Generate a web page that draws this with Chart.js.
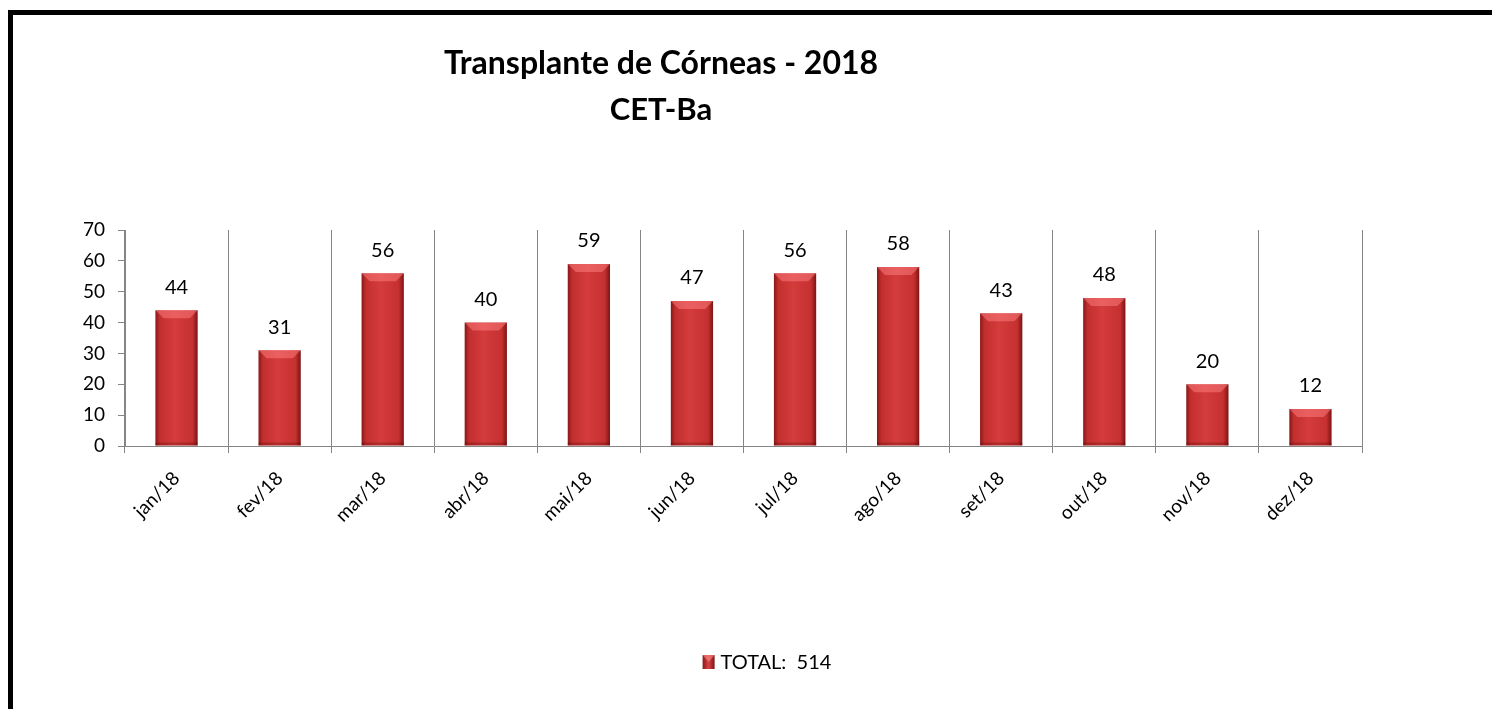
<!DOCTYPE html>
<html>
<head>
<meta charset="UTF-8">
<title>Transplante de Córneas - 2018</title>
<style>
  html, body { margin: 0; padding: 0; background: #fff; overflow: hidden; }
  #wrap { position: relative; width: 1492px; height: 709px; }
  #frame {
    position: absolute; left: 8px; top: 10px;
    width: 1600px; height: 800px;
    border: 5px solid #000; pointer-events: none;
  }
  canvas { position: absolute; left: 0; top: 0; }
</style>
</head>
<body>
<div id="wrap">
  <canvas id="chart" width="1492" height="709"></canvas>
  <div id="frame"></div>
</div>
<script src="https://cdn.jsdelivr.net/npm/chart.js"></script>
<script>
// Dados do gráfico
const titleLines = ['Transplante de Córneas - 2018', 'CET-Ba'];
const months = ['jan/18', 'fev/18', 'mar/18', 'abr/18', 'mai/18', 'jun/18',
                'jul/18', 'ago/18', 'set/18', 'out/18', 'nov/18', 'dez/18'];
const transplants = [44, 31, 56, 40, 59, 47, 56, 58, 43, 48, 20, 12];
const seriesName = 'TOTAL:  514';
const yTicks = [0, 10, 20, 30, 40, 50, 60, 70];

const FONT = 'Lato, "Open Sans", sans-serif';
const GRID = '#858585';

// gradiente horizontal de cada barra
function barFill(ctx) {
  const chart = ctx.chart;
  const xs = chart.scales.x;
  if (!xs || !chart.chartArea) return '#c83232';
  const cx = xs.getPixelForValue(ctx.dataIndex);
  const half = 21;
  const g = chart.ctx.createLinearGradient(cx - half, 0, cx + half, 0);
  g.addColorStop(0, '#8a1818');
  g.addColorStop(0.1, '#c22e2e');
  g.addColorStop(0.45, '#d53c3c');
  g.addColorStop(0.88, '#c53030');
  g.addColorStop(1, '#7e1515');
  return g;
}

// bisel no topo + rótulos de dados
const barDecor = {
  id: 'barDecor',
  afterDatasetsDraw(chart) {
    const c = chart.ctx;
    const meta = chart.getDatasetMeta(0);
    c.save();
    meta.data.forEach((bar, i) => {
      const l = bar.x - bar.width / 2, r = bar.x + bar.width / 2;
      const t = bar.y, b = bar.base;
      const bev = Math.min(8, (b - t) / 3);
      c.fillStyle = 'rgba(255,130,130,0.5)';
      c.beginPath();
      c.moveTo(l, t); c.lineTo(r, t); c.lineTo(r - bev, t + bev); c.lineTo(l + bev, t + bev);
      c.closePath(); c.fill();
      c.fillStyle = 'rgba(80,0,0,0.25)';
      c.fillRect(l, b - 3, r - l, 3);
      c.fillStyle = '#000';
      c.font = '20px ' + FONT;
      c.textAlign = 'center';
      c.textBaseline = 'middle';
      c.fillText(String(transplants[i]), bar.x, t - 23);
    });
    c.restore();
  }
};

// título e legenda
const textDecor = {
  id: 'textDecor',
  afterDraw(chart) {
    const c = chart.ctx;
    c.save();
    c.fillStyle = '#000';
    c.textAlign = 'center';
    c.textBaseline = 'alphabetic';
    c.font = 'bold 32px ' + FONT;
    c.fillText(titleLines[0], 661, 74);
    c.font = 'bold 31px ' + FONT;
    c.fillText(titleLines[1], 661, 120);

    c.font = '20px ' + FONT;
    c.textAlign = 'left';
    c.textBaseline = 'middle';
    const tw = c.measureText(seriesName).width;
    const box = 12, gap = 6;
    const x0 = 767 - (box + gap + tw) / 2, y0 = 662;
    const g = c.createLinearGradient(x0, 0, x0 + box, 0);
    g.addColorStop(0, '#8a1818'); g.addColorStop(0.5, '#d94242'); g.addColorStop(1, '#7e1515');
    c.fillStyle = g;
    c.fillRect(x0, y0 - 7, box, 14);
    c.fillStyle = 'rgba(255,140,140,0.6)';
    c.beginPath();
    c.moveTo(x0, y0 - 7); c.lineTo(x0 + box, y0 - 7); c.lineTo(x0 + box / 2, y0); c.closePath(); c.fill();
    c.fillStyle = '#000';
    c.fillText(seriesName, x0 + box + gap, y0 + 1);
    c.restore();
  }
};

new Chart(document.getElementById('chart').getContext('2d'), {
  type: 'bar',
  data: {
    labels: months,
    datasets: [{
      label: seriesName,
      data: transplants,
      backgroundColor: barFill,
      borderWidth: 0,
      categoryPercentage: 1,
      barPercentage: 0.41
    }]
  },
  options: {
    responsive: false,
    animation: false,
    events: [],
    layout: { padding: { left: 0, right: 130, top: 230, bottom: 0 } },
    plugins: { legend: { display: false }, title: { display: false }, tooltip: { enabled: false } },
    scales: {
      x: {
        grid: { color: GRID, lineWidth: 1, offset: true, tickLength: 7, drawTicks: true },
        border: { color: GRID, width: 1 },
        ticks: {
          color: '#000', font: { family: FONT, size: 19 },
          minRotation: 45, maxRotation: 45, autoSkip: false, padding: 14
        },
        afterFit(scale) { scale.height = 263; }
      },
      y: {
        min: 0, max: 70,
        afterBuildTicks(scale) { scale.ticks = yTicks.map(v => ({ value: v })); },
        grid: { display: true, drawOnChartArea: false, tickLength: 7, color: GRID },
        border: { color: GRID, width: 1 },
        ticks: { color: '#000', font: { family: FONT, size: 19 }, padding: 13 },
        afterFit(scale) { scale.width = 125; }
      }
    }
  },
  plugins: [barDecor, textDecor]
});
</script>
</body>
</html>
